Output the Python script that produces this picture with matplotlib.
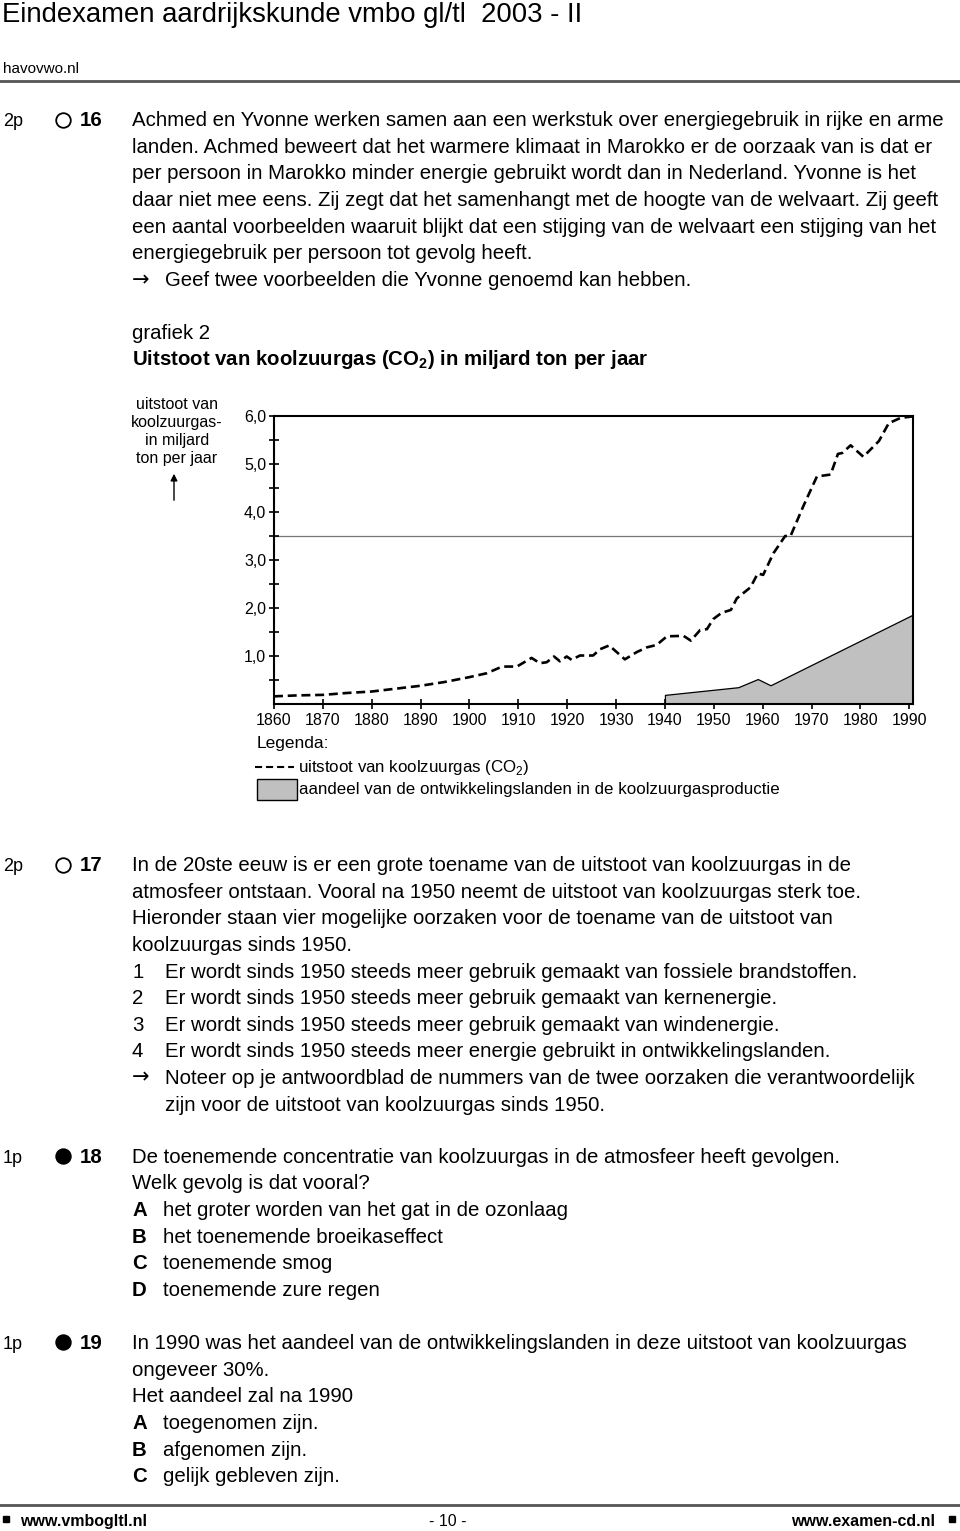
import matplotlib
matplotlib.use("Agg")
from matplotlib import pyplot as plt
from matplotlib.lines import Line2D
from matplotlib.patches import Rectangle, FancyArrowPatch

# emission of CO2 (miljard ton per jaar)
co2_years = [1860, 1865, 1870, 1875, 1880, 1885, 1890, 1895, 1900, 1903.5,
             1906.7, 1909.7, 1912.7, 1914.4, 1915.8, 1917.3, 1918.5, 1919.9,
             1920.9, 1922.6, 1925.3, 1926.7, 1928.6, 1931.8, 1934.2, 1936.3,
             1938.3, 1940.4, 1943.8, 1945.3, 1947.2, 1948.6, 1949.9, 1951.6,
             1953.5, 1954.7, 1957.5, 1959.0, 1960.1, 1962.2, 1964.6, 1965.7,
             1968.4, 1971.1, 1973.9, 1975.4, 1976.3, 1978.0, 1980.6, 1983.8,
             1985.8, 1988.2, 1990.6]
co2_values = [0.16, 0.18, 0.19, 0.23, 0.26, 0.32, 0.38, 0.46, 0.56, 0.64,
              0.78, 0.78, 0.96, 0.85, 0.87, 0.99, 0.89, 0.99,
              0.92, 1.01, 1.01, 1.14, 1.22, 0.93, 1.08, 1.18,
              1.23, 1.41, 1.42, 1.32, 1.54, 1.56, 1.77, 1.90,
              1.96, 2.20, 2.43, 2.72, 2.69, 3.14, 3.50, 3.50,
              4.14, 4.74, 4.78, 5.21, 5.23, 5.39, 5.15, 5.48,
              5.85, 5.96, 5.99]

# share of the developing countries
dev_years = [1940, 1955, 1959, 1961.6, 1990.7]
dev_values = [0.19, 0.35, 0.52, 0.39, 1.86]

x_ticks = [1860, 1870, 1880, 1890, 1900, 1910, 1920, 1930, 1940, 1950,
           1960, 1970, 1980, 1990]
y_ticks = [1, 2, 3, 4, 5, 6]
y_tick_labels = ["1,0", "2,0", "3,0", "4,0", "5,0", "6,0"]
y_minor = [0.5, 1.5, 2.5, 3.5, 4.5, 5.5]
ref_level = 3.5

W, H = 960, 1531
BODY = 14.7
FONT = ["Liberation Sans", "DejaVu Sans"]
plt.rcParams["font.family"] = FONT

fig = plt.figure(figsize=(W / 100, H / 100), dpi=100)


def put(x, y, s, size=BODY, **kw):
    # y is the middle of the capitals in pixels from the top; text sits on
    # its baseline so descenders don't shift lines around
    if "va" not in kw:
        kw["va"] = "baseline"
        y = y + 0.30 * size * 100 / 72
    fig.text(x / W, 1 - y / H, s, fontsize=size, **kw)


def hrule(y, lw=2.0):
    fig.add_artist(Line2D([0, 1], [1 - y / H] * 2, color="#555555", lw=lw,
                          transform=fig.transFigure))


def bullet(x, y, filled):
    fig.add_artist(Line2D([x / W], [1 - y / H], marker="o", ms=10.5,
                          mfc="black" if filled else "none", mec="black",
                          mew=1.3, transform=fig.transFigure))


def arrow(x, y):
    put(x, y, "\u2192", size=15, family=["DejaVu Sans"], va="center")


def square(x, y):
    fig.add_artist(Line2D([x / W], [1 - y / H], marker="s", ms=4,
                          mfc="black", mec="black", transform=fig.transFigure))


# header
put(2, 14, "Eindexamen aardrijkskunde vmbo gl/tl  2003 - II", size=19.8)
put(3, 68, "havovwo.nl", size=11)
hrule(81)

# question 16
q16 = ["Achmed en Yvonne werken samen aan een werkstuk over energiegebruik in rijke en arme",
       "landen. Achmed beweert dat het warmere klimaat in Marokko er de oorzaak van is dat er",
       "per persoon in Marokko minder energie gebruikt wordt dan in Nederland. Yvonne is het",
       "daar niet mee eens. Zij zegt dat het samenhangt met de hoogte van de welvaart. Zij geeft",
       "een aantal voorbeelden waaruit blijkt dat een stijging van de welvaart een stijging van het",
       "energiegebruik per persoon tot gevolg heeft."]
put(3, 121, "2p", size=13)
bullet(63, 120, False)
put(80, 120, "16", weight="bold")
for i, line in enumerate(q16):
    put(132, 120 + i * 26.6, line)
arrow(132, 280)
put(165, 280, "Geef twee voorbeelden die Yvonne genoemd kan hebben.")

put(132, 333, "grafiek 2")
put(132, 359, "Uitstoot van koolzuurgas (CO$_\\mathregular{2}$) in miljard ton per jaar",
    weight="bold")

# the chart
ax = fig.add_axes([274 / W, 1 - 704 / H, 638.7 / W, 288 / H])
ax.fill_between(dev_years, 0, dev_values, facecolor="#c0c0c0",
                edgecolor="black", lw=0.9, zorder=2)
ax.plot(co2_years, co2_values, color="black", lw=1.9,
        linestyle=(0, (3.4, 1.8)), zorder=3, clip_on=False)
ax.axhline(ref_level, color="#777777", lw=0.9, zorder=1)
ax.set_xlim(1860, 1990.7)
ax.set_ylim(0, 6)
ax.set_xticks(x_ticks)
ax.set_xticklabels([str(t) for t in x_ticks])
ax.set_yticks(y_ticks)
ax.set_yticklabels(y_tick_labels)
ax.set_yticks(y_minor, minor=True)
ax.tick_params(axis="both", which="both", direction="inout", length=7,
               width=1.2, labelsize=11.5, pad=2)
ax.tick_params(axis="x", pad=3)
for sp in ax.spines.values():
    sp.set_linewidth(1.5)

put(177, 432, "uitstoot van\nkoolzuurgas-\nin miljard\nton per jaar", size=11.5,
    ha="center", va="center", linespacing=1.25)
fig.add_artist(FancyArrowPatch(
    (174 / W, 1 - 503 / H), (174 / W, 1 - 471 / H), transform=fig.transFigure,
    arrowstyle="-|>,head_length=4,head_width=2", lw=1, color="black"))

# legend
put(257, 743, "Legenda:", size=12.5)
fig.add_artist(Line2D([255 / W, 294 / W], [1 - 767 / H] * 2, color="black",
                      lw=1.5, linestyle=(0, (3.4, 1.9)), transform=fig.transFigure))
put(298, 767, "uitstoot van koolzuurgas (CO$_\\mathregular{2}$)", size=12.2)
fig.add_artist(Rectangle((257 / W, 1 - 800 / H), 40 / W, 21 / H,
                         facecolor="#c0c0c0", edgecolor="black", lw=1,
                         transform=fig.transFigure))
put(299, 789, "aandeel van de ontwikkelingslanden in de koolzuurgasproductie", size=12.2)

# question 17
q17 = ["In de 20ste eeuw is er een grote toename van de uitstoot van koolzuurgas in de",
       "atmosfeer ontstaan. Vooral na 1950 neemt de uitstoot van koolzuurgas sterk toe.",
       "Hieronder staan vier mogelijke oorzaken voor de toename van de uitstoot van",
       "koolzuurgas sinds 1950."]
q17_items = ["Er wordt sinds 1950 steeds meer gebruik gemaakt van fossiele brandstoffen.",
             "Er wordt sinds 1950 steeds meer gebruik gemaakt van kernenergie.",
             "Er wordt sinds 1950 steeds meer gebruik gemaakt van windenergie.",
             "Er wordt sinds 1950 steeds meer energie gebruikt in ontwikkelingslanden."]
put(3, 866, "2p", size=13)
bullet(63, 865, False)
put(80, 865, "17", weight="bold")
y = 865
for line in q17:
    put(132, y, line)
    y += 26.6
for i, line in enumerate(q17_items):
    put(132, y, str(i + 1))
    put(165, y, line)
    y += 26.6
arrow(132, y)
put(165, y, "Noteer op je antwoordblad de nummers van de twee oorzaken die verantwoordelijk")
put(165, y + 26.6, "zijn voor de uitstoot van koolzuurgas sinds 1950.")

# question 18
put(3, 1158, "1p", size=13)
bullet(63, 1156, True)
put(80, 1157, "18", weight="bold")
put(132, 1157, "De toenemende concentratie van koolzuurgas in de atmosfeer heeft gevolgen.")
put(132, 1183, "Welk gevolg is dat vooral?")
q18_letters = ["A", "B", "C", "D"]
q18_opts = ["het groter worden van het gat in de ozonlaag",
            "het toenemende broeikaseffect",
            "toenemende smog",
            "toenemende zure regen"]
for i, (a, b) in enumerate(zip(q18_letters, q18_opts)):
    put(132, 1210 + i * 26.6, a, weight="bold")
    put(163, 1210 + i * 26.6, b)

# question 19
put(3, 1344, "1p", size=13)
bullet(63, 1342, True)
put(80, 1343, "19", weight="bold")
put(132, 1343, "In 1990 was het aandeel van de ontwikkelingslanden in deze uitstoot van koolzuurgas")
put(132, 1370, "ongeveer 30%.")
put(132, 1396, "Het aandeel zal na 1990")
q19_opts = ["toegenomen zijn.", "afgenomen zijn.", "gelijk gebleven zijn."]
for i, (a, b) in enumerate(zip(["A", "B", "C"], q19_opts)):
    put(132, 1423 + i * 26.6, a, weight="bold")
    put(163, 1423 + i * 26.6, b)

# footer
hrule(1505)
square(6, 1519)
put(20, 1521, "www.vmbogltl.nl", size=11.5, weight="bold")
put(448, 1521, "- 10 -", size=11.5, ha="center")
put(935, 1521, "www.examen-cd.nl", size=11.5, weight="bold", ha="right")
square(952, 1519)

fig.savefig("out.png", dpi=100)
